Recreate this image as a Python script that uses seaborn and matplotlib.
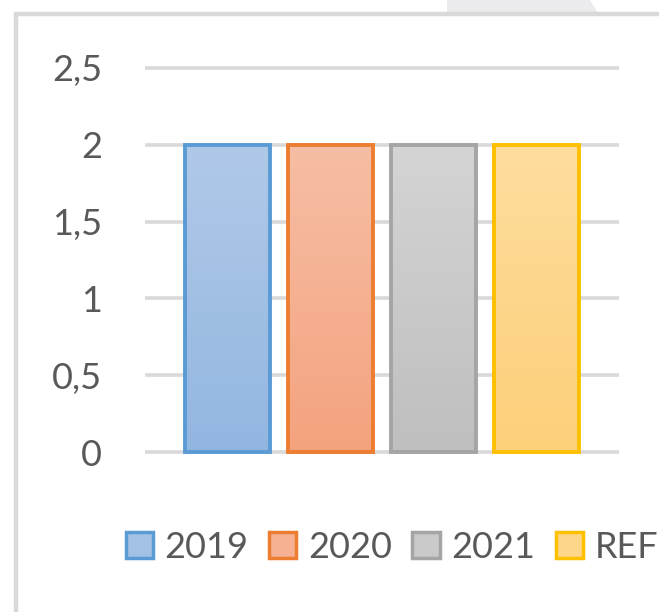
import numpy as np
import matplotlib
matplotlib.use("Agg")
import matplotlib.pyplot as plt
import seaborn as sns
from matplotlib.patches import Patch, Rectangle, Polygon
from matplotlib.colors import LinearSegmentedColormap

# chart data
series = ["2019", "2020", "2021", "REF"]
values = [2, 2, 2, 2]
groups = ["A", "A", "A", "A"]
tick_values = [0, 0.5, 1, 1.5, 2, 2.5]
tick_labels = ["0", "0,5", "1", "1,5", "2", "2,5"]

# office style colours
edge_colors = ["#5b9bd5", "#ed7d31", "#a5a5a5", "#ffc000"]
top_colors = ["#b0c9e8", "#f6bea4", "#d4d4d4", "#ffdd9e"]
bottom_colors = ["#93b6e1", "#f4a37f", "#bfbfbf", "#fdd07a"]
mid_colors = ["#a3c0e5", "#f5b192", "#cacaca", "#fed78c"]
text_color = "#595959"
grid_color = "#d9d9d9"

sns.set_style("white")
plt.rcParams['font.family'] = ['Lato', 'DejaVu Sans']

W, H = 659, 612
fig = plt.figure(figsize=(W / 100, H / 100), dpi=100)
fig.patch.set_facecolor("white")

# plot area placed in pixels (y measured from the top)
left_px, right_px = 145, 619
y0_px, y25_px = 452, 68
pad = 0.03
per_unit = (y0_px - y25_px) / 2.5
bottom_px = y0_px + pad * per_unit
top_px = y25_px - pad * per_unit
ax = fig.add_axes([left_px / W, 1 - bottom_px / H,
                   (right_px - left_px) / W, (bottom_px - top_px) / H])

sns.barplot(x=groups, y=values, hue=series, hue_order=series,
            palette=mid_colors, width=0.87, gap=0.17, legend=False,
            saturation=1, ax=ax)

# gradient fill + outline for each bar
for i, bar in enumerate(ax.patches):
    x, y = bar.get_x(), bar.get_y()
    w, h = bar.get_width(), bar.get_height()
    cmap = LinearSegmentedColormap.from_list("g%d" % i, [bottom_colors[i], top_colors[i]])
    im = ax.imshow(np.linspace(0, 1, 64).reshape(-1, 1), cmap=cmap, origin="lower",
                   extent=[x, x + w, y, y + h], aspect="auto", zorder=0.9)
    im.set_clip_path(bar)
    bar.set_facecolor("none")
    bar.set_edgecolor(edge_colors[i])
    bar.set_linewidth(2.8)
    bar.set_zorder(2)

ax.set_xlim(-0.5, 0.5)
ax.set_ylim(-pad, 2.5 + pad)
ax.set_yticks(tick_values, labels=tick_labels)
ax.set_xticks([])
ax.set_xlabel("")
ax.set_ylabel("")
ax.tick_params(axis="y", length=0, pad=31, labelsize=26, labelcolor=text_color)
ax.yaxis.grid(True, color=grid_color, linewidth=2.6)
ax.set_axisbelow(True)
for s in ax.spines.values():
    s.set_visible(False)
ax.set_facecolor("none")

# legend
handles = [Patch(facecolor=mid_colors[i], edgecolor=edge_colors[i], linewidth=2.5)
           for i in range(len(series))]
fig.legend(handles, series, loc="center left", bbox_to_anchor=(126 / W, 1 - 547 / H),
           ncol=4, frameon=False, fontsize=26, labelcolor=text_color,
           handlelength=0.75, handleheight=0.75, handletextpad=0.32,
           columnspacing=0.57, borderpad=0, borderaxespad=0)

# chart frame and the grey tab at the top
fig.add_artist(Polygon([(447 / W, 1), (590 / W, 1), (598 / W, 1 - 13 / H), (447 / W, 1 - 13 / H)],
                       closed=True, transform=fig.transFigure, facecolor="#ececee",
                       edgecolor="none", zorder=0))
fig.add_artist(Rectangle((16 / W, -0.1), 1.2, 1.1 - 14 / H, transform=fig.transFigure,
                         fill=False, edgecolor=grid_color, linewidth=3.2, zorder=1))

fig.savefig("out.png", dpi=100)
